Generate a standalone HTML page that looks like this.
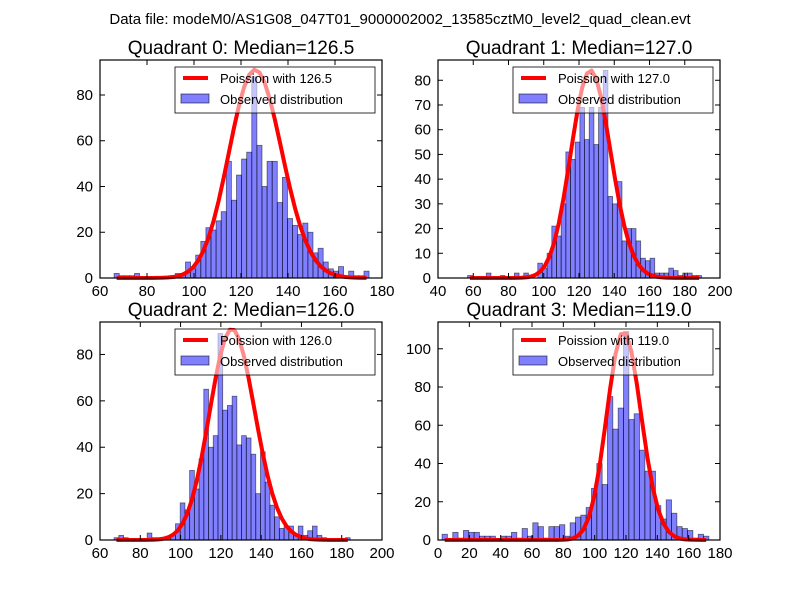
<!DOCTYPE html>
<html><head><meta charset="utf-8"><style>
body{margin:0;background:#fff}
svg{display:block;font-family:"Liberation Sans","DejaVu Sans",sans-serif}
</style></head><body>
<svg id="fig" width="800" height="600" viewBox="0 0 800 600">
<rect width="800" height="600" fill="#fff"/>
<text x="400" y="24" text-anchor="middle" font-size="15">Data file: modeM0/AS1G08_047T01_9000002002_13585cztM0_level2_quad_clean.evt</text>
</svg>
<script>
const titles = ["Quadrant 0: Median=126.5","Quadrant 1: Median=127.0","Quadrant 2: Median=126.0","Quadrant 3: Median=119.0"];
const medians = [126.5,127.0,126.0,119.0];
const curvePeaks = [91,84,91,109];
const binStart = [66.0,56.8,67.0,2.6];
const binEnd = [174.5,189.5,184.2,172.9];
const counts0 = [2,1,1,1,2,0,0,0,0,0,0,0,2,2,7,4,10,16,22,21,25,29,51,34,45,52,55,88,58,40,51,51,33,44,26,23,19,24,20,11,13,7,4,3,5,1,3,1,1,3];
const counts1 = [1,0,0,0,2,0,0,1,0,0,2,0,2,1,0,6,4,10,21,17,30,51,48,55,69,56,69,54,69,84,33,30,39,15,20,20,15,8,7,8,2,2,2,4,3,1,2,2,1,1];
const counts2 = [1,2,1,0,0,0,0,3,1,1,1,1,2,7,16,13,30,22,35,65,40,45,89,56,58,62,41,45,44,37,20,38,25,15,10,5,6,6,2,6,2,4,6,2,1,0,0,0,0,1];
const counts3 = [3,0,4,1,5,4,4,2,2,2,0,2,2,4,1,6,2,9,7,1,7,7,8,2,9,12,13,17,27,40,29,75,58,69,109,63,66,47,36,36,18,11,21,14,7,6,5,1,3,2];
const xTicks0 = [60,80,100,120,140,160,180];
const xTicks1 = [40,60,80,100,120,140,160,180,200];
const xTicks2 = [60,80,100,120,140,160,180,200];
const xTicks3 = [0,20,40,60,80,100,120,140,160,180];
const yTicks0 = [0,20,40,60,80];
const yTicks1 = [0,10,20,30,40,50,60,70,80];
const yTicks2 = [0,20,40,60,80];
const yTicks3 = [0,20,40,60,80,100];
const xLims = [[60,180],[40,200],[60,200],[0,180]];
const yMax = [95.3,88.2,94,114];

const allCounts=[counts0,counts1,counts2,counts3];
const allX=[xTicks0,xTicks1,xTicks2,xTicks3];
const allY=[yTicks0,yTicks1,yTicks2,yTicks3];
const boxes=[[100,60,382,278],[438,60,720,278],[100,322,382,540],[438,322,720,540]];
const NS="http://www.w3.org/2000/svg";
const svg=document.getElementById('fig');
function mk(tag,attrs,parent){const e=document.createElementNS(NS,tag);for(const k in attrs)e.setAttribute(k,attrs[k]);(parent||svg).appendChild(e);return e;}
function lgam(x){x+=1;return (x-0.5)*Math.log(x)-x+0.5*Math.log(2*Math.PI)+1/(12*x)-Math.log(x-1);}
function lfact(k){return k<1?0:lgam(k+1);}
for(let q=0;q<4;q++){
  const [L,T,R,B]=boxes[q];
  const xs=v=>L+(v-xLims[q][0])/(xLims[q][1]-xLims[q][0])*(R-L);
  const ys=v=>B-v/yMax[q]*(B-T);
  const g=mk('g',{});
  
  
  const t=mk('text',{x:(L+R)/2,y:T-6,'text-anchor':'middle','font-size':19},g);
  t.textContent=titles[q];
  
  
  const cts=allCounts[q],n=cts.length,w=(binEnd[q]-binStart[q])/n;
  for(let i=0;i<n;i++){if(!cts[i])continue;
    const x0=xs(binStart[q]+i*w),x1=xs(binStart[q]+(i+1)*w);
    const r=mk('rect',{x:x0,y:ys(cts[i]),width:x1-x0,height:B-ys(cts[i]),fill:'rgba(0,0,255,0.5)',stroke:'rgba(0,0,0,0.55)','stroke-width':0.8},g);
    
    }
  const lam=medians[q];
  const lpeak=lam*Math.log(lam)-lam-lfact(lam);
  let d='';
  for(let i=0;i<n;i++){const k=binStart[q]+(i+0.5)*w;
    const lp=k*Math.log(lam)-lam-lfact(k);
    const y=curvePeaks[q]*Math.exp(lp-lpeak);
    d+=(i?'L':'M')+xs(k).toFixed(2)+','+ys(y).toFixed(2);}
  const cl=mk('path',{d:d,fill:'none',stroke:'#ff0000','stroke-width':4,'stroke-linejoin':'round'},g);
  
  
  mk('rect',{x:L,y:T,width:R-L,height:B-T,fill:'none',stroke:'#000','stroke-width':1.2},g);
  allX[q].forEach(v=>{const x=xs(v);
    mk('line',{x1:x,x2:x,y1:B,y2:B-5,stroke:'#000'},g);
    mk('line',{x1:x,x2:x,y1:T,y2:T+5,stroke:'#000'},g);
    const tl=mk('text',{x:x,y:B+18,'text-anchor':'middle','font-size':15},g);tl.textContent=v;
    
    });
  allY[q].forEach(v=>{const y=ys(v);
    mk('line',{x1:L,x2:L+5,y1:y,y2:y,stroke:'#000'},g);
    mk('line',{x1:R,x2:R-5,y1:y,y2:y,stroke:'#000'},g);
    const tl=mk('text',{x:L-7,y:y+5,'text-anchor':'end','font-size':15},g);tl.textContent=v;
    
    });
  const lg=mk('g',{},g);
  
  
  mk('rect',{x:L+75,y:T+7,width:200,height:46,fill:'rgba(255,255,255,0.55)',stroke:'#000','stroke-width':0.8},lg);
  mk('line',{x1:L+83,x2:L+108,y1:T+18,y2:T+18,stroke:'#ff0000','stroke-width':4},lg);
  const t1=mk('text',{x:L+120,y:T+23,'font-size':13},lg);t1.textContent='Poission with '+medians[q].toFixed(1);
  mk('rect',{x:L+81,y:T+34,width:28,height:9,fill:'rgba(0,0,255,0.5)',stroke:'rgba(0,0,0,0.55)'},lg);
  const t2=mk('text',{x:L+120,y:T+44,'font-size':13},lg);t2.textContent='Observed distribution';
}
</script>
</body></html>
